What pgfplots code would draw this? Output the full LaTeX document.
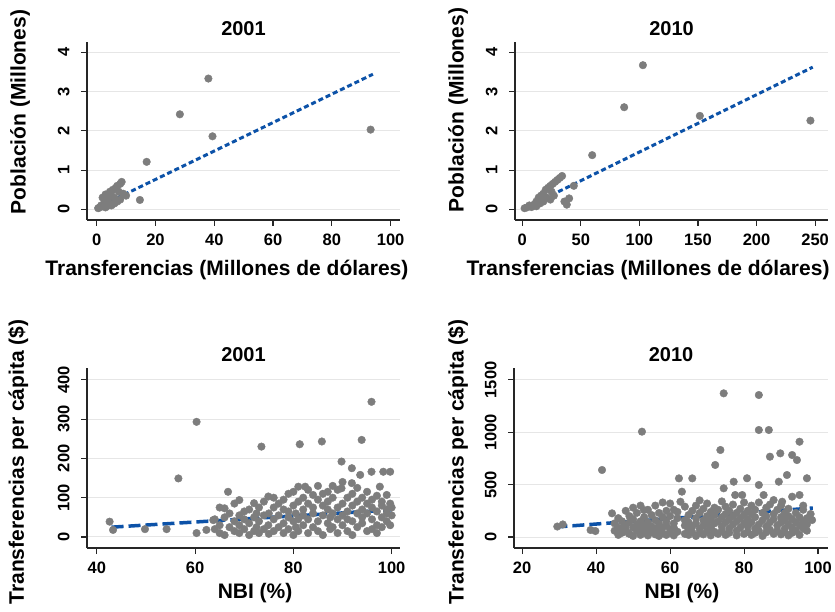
\documentclass[border=0pt]{standalone}
\usepackage{fontspec}
\setmainfont{Liberation Sans}
\usepackage{pgfplots}
\pgfplotsset{compat=1.18}

\definecolor{fitblue}{RGB}{12,82,168}
\definecolor{ptgray}{RGB}{125,125,125}
\definecolor{gridgray}{RGB}{230,230,230}

\pgfplotsset{
  panel/.style={
    scale only axis,
    anchor=south west,
    axis lines*=left,
    axis line style={line width=1.3pt, black!85},
    tick align=outside,
    major tick length=6pt,
    tick style={line width=1.1pt, black!85},
    ymajorgrids,
    grid style={line width=1pt, gridgray},
    /pgf/number format/assume math mode=true,
    /pgf/number format/set thousands separator={},
    tick label style={font=\fontsize{16.5}{18}\selectfont\bfseries},
    yticklabel style={rotate=90, anchor=south},
    yticklabel shift=8pt,
    xticklabel shift=4pt,
    label style={font=\fontsize{21}{23}\selectfont\bfseries},
    title style={font=\fontsize{20}{22}\selectfont\bfseries, at={(0.5,1)}, anchor=south, yshift=-3pt},
    clip=false,
  },
  pts/.style={only marks, mark=*, mark size=3.8pt, ptgray, mark options={draw=ptgray, fill=ptgray}},
  fitsmall/.style={no marks, fitblue, line width=3pt, dash pattern=on 5pt off 3pt},
  fitlong/.style={no marks, fitblue, line width=3.5pt, dash pattern=on 12pt off 5pt},
}

\begin{document}
\begin{tikzpicture}
\path[use as bounding box] (0,0) rectangle (835pt,611pt);

% Poblacion vs transferencias, 2001
\begin{axis}[panel, at={(87pt,391pt)}, width=313pt, height=178pt,
  xmin=-3.3, xmax=103.2, ymin=-0.27, ymax=4.26,
  xtick={0,20,...,100}, ytick={0,1,2,3,4},
  title={2001},
  xlabel={Transferencias (Millones de dólares)},
  ylabel={Población (Millones)},
  xlabel style={at={(axis description cs:0.447,-0.281)}, anchor=center},
  ylabel style={at={(axis description cs:-0.214,0.607)}, anchor=center},
]
\addplot[pts] coordinates {
(0.5,0.03)(1,0.05)(1.5,0.1)(2,0.08)(2.5,0.15)(3,0.38)(2,0.3)(3.5,0.25)(4,0.2)
(4.5,0.45)(5,0.35)(5.5,0.5)(6,0.3)(6.5,0.55)(7,0.6)(7.5,0.45)(8,0.65)(8.5,0.7)
(6,0.15)(7,0.2)(8,0.25)(9,0.4)(10,0.35)(4,0.1)(3,0.05)(5,0.1)
(14.7,0.24)(17,1.21)(28.3,2.42)(38,3.33)(39.4,1.86)(93.2,2.03)
};
\addplot[fitsmall] coordinates {(-0.5,0.02)(94,3.44)};
\end{axis}

% Poblacion vs transferencias, 2010
\begin{axis}[panel, at={(515pt,391pt)}, width=313pt, height=178pt,
  xmin=-6.2, xmax=261, ymin=-0.27, ymax=4.26,
  xtick={0,50,...,250}, ytick={0,1,2,3,4},
  title={2010},
  xlabel={Transferencias (Millones de dólares)},
  ylabel={Población (Millones)},
  xlabel style={at={(axis description cs:0.425,-0.281)}, anchor=center},
  ylabel style={at={(axis description cs:-0.182,0.618)}, anchor=center},
]
\addplot[pts] coordinates {
(2,0.03)(4,0.05)(6,0.1)(8,0.06)(10,0.12)(12,0.2)(14,0.3)(15,0.15)(16,0.35)
(18,0.4)(18,0.2)(20,0.5)(21,0.3)(22,0.55)(24,0.6)(25,0.45)(26,0.65)(28,0.7)
(30,0.75)(32,0.8)(34,0.85)(27,0.35)(24,0.25)(12,0.08)(36,0.2)(40,0.28)(38,0.12)
(44,0.6)(59.7,1.38)(87,2.6)(103,3.67)(151.6,2.38)(246,2.26)
};
\addplot[fitsmall] coordinates {(0,0.0)(248,3.62)};
\end{axis}

% Transferencias per capita vs NBI, 2001
\begin{axis}[panel, at={(87pt,63pt)}, width=313pt, height=180pt,
  xmin=38, xmax=101.7, ymin=-28, ymax=430,
  xtick={40,60,80,100}, ytick={0,100,...,400},
  title={2001},
  xlabel={NBI (\%)},
  ylabel={Transferencias per cápita (\$)},
  xlabel style={at={(axis description cs:0.537,-0.25)}, anchor=center},
  ylabel style={at={(axis description cs:-0.22,0.478)}, anchor=center},
]
\addplot[pts] coordinates {
(42.6,39)(43.3,18)(49.8,20)(54.2,20)(56.6,149)(60.3,293)(60.3,10)(62.3,18)(63.7,43)
(64,45)(64,20)(65,75)(65,10)(65,30)(66,73)(66,50)(66,5)(66.7,115)(67,25)(67,60)
(68,40)(68,15)(68,85)(69,94)(69,55)(69,10)(69,30)(70,65)(70,20)(70,45)
(71,35)(71,70)(71,5)(72,86)(72,50)(72,15)(72.5,25)(72.5,60)(73,40)(73,10)(73,75)
(73.5,230)(74,55)(74,20)(74,90)(74.9,103)(74.9,30)(75,60)(75,8)
(76,45)(76,75)(76,15)(76,100)(77,25)(77,55)(77,85)(78,70)(78,35)(78,10)(78,95)
(79,50)(79,110)(79,20)(79,65)(80,80)(80,40)(80,5)(80,115)(80.5,60)(80.5,25)
(81,128)(81,90)(81,45)(81,15)(81.3,236)(82,70)(82,30)(82,100)(82,55)(82.4,128)
(83,85)(83,10)(83,45)(83,120)(84,60)(84,25)(84,107)(84,75)(85,95)(85,40)(85,15)(85,130)
(85.8,243)(86,55)(86,80)(86,5)(86,110)(87,115)(87,70)(87,35)(87,90)(87.5,20)(87.5,50)
(88,100)(88,60)(88,130)(88,25)(89,75)(89,45)(89,10)(89,120)(89.8,192)(89.8,124)
(90,85)(90,55)(90,30)(90,140)(91,65)(91,100)(91,15)(91,45)(91.9,175)(91.9,137)
(92,80)(92,40)(92,110)(92,5)(93,90)(93,60)(93,25)(93,125)(93.6,158)(93.9,247)
(94,70)(94,35)(94,100)(94,50)(95,85)(95,15)(95,115)(95,60)(95.9,344)(95.9,166)
(96,45)(96,95)(96,20)(96,75)(97,65)(97,30)(97,105)(97,10)(97.6,128)
(98,80)(98,50)(98,90)(98,25)(98.3,166)(99,70)(99,107)(99,40)(99,60)
(99.7,166)(99.7,85)(99.7,30)(100,55)(100,75)
};
\addplot[fitlong] coordinates {(43,25)(100,69)};
\end{axis}

% Transferencias per capita vs NBI, 2010
\begin{axis}[panel, at={(514pt,63pt)}, width=314pt, height=180pt,
  xmin=17.8, xmax=102.7, ymin=-105, ymax=1614,
  xtick={20,40,...,100}, ytick={0,500,1000,1500},
  title={2010},
  xlabel={NBI (\%)},
  ylabel={Transferencias per cápita (\$)},
  xlabel style={at={(axis description cs:0.535,-0.25)}, anchor=center},
  ylabel style={at={(axis description cs:-0.178,0.478)}, anchor=center},
]
\addplot[pts] coordinates {
(29.5,100)(31,120)(38.5,67)(39.8,57)(41.6,640)(44.3,226)(47,83)(48.8,35)
(45,130)(45,60)(46,180)(46,20)(46,90)(47,150)(47,40)(48,110)(48,250)(48,70)
(49,30)(49,200)(49,140)(50,90)(50,10)(50,170)(50,280)(51,60)(51,230)(51,120)
(52,20)(52,150)(52,300)(52,80)(52.4,1006)(52.9,258)(53,40)(53,190)(53,110)
(54,260)(54,70)(54,15)(54,140)(55,100)(55,210)(55,45)(56,300)(56,160)(56,25)(56,80)
(57,130)(57,230)(57,60)(57,10)(58,190)(58,90)(58,330)(58,35)(59,250)(59,150)(59,20)(59,110)
(60,70)(60,200)(60,320)(60,40)(61,130)(61,260)(61,15)(61,90)(62,180)(62,50)(62,240)
(62.4,560)(62.8,337)(63.2,433)(64,110)(64,290)(64,30)(64,160)(65,210)(65,70)(65,20)(65,140)
(66,560)(66,250)(66,100)(66,45)(67,180)(67,10)(67,130)(67,300)(68,80)(68,230)(68,40)(68,350)
(69,160)(69,270)(69,25)(69,110)(70,200)(70,60)(70,320)(70,130)(71,90)(71,240)(71,15)(71,170)
(72,280)(72,130)(72,50)(72,210)(72.2,688)(73,150)(73,30)(73,260)(73.6,831)
(74,100)(74,340)(74,190)(74,60)(74.5,1372)(74.5,465)(75,220)(75,20)(75,140)(75,290)
(76,80)(76,250)(76,170)(76,40)(77,120)(77,310)(77,200)(77.2,528)(77.6,401)
(78,60)(78,230)(78,150)(78,15)(79,180)(79,270)(79,90)(79.5,401)
(80,30)(80,210)(80,130)(80,330)(80.8,561)(81,100)(81,250)(81,170)(81,50)
(82,300)(82,140)(82,20)(82,220)(83,80)(83,190)(83,260)(83,40)
(84,1356)(84,1022)(84,497)(84,120)(84,330)(84,60)(85,230)(85,160)(85,10)(85.3,401)
(86,280)(86,100)(86,200)(86,45)(86.7,1022)(87,767)(87,140)(87,310)(87,70)
(88,353)(88,220)(88,30)(88,170)(89,110)(89,260)(89,60)(89.4,528)(89.8,799)
(90,190)(90,300)(90,25)(90,140)(90.3,337)(91,80)(91,230)(91,160)(91,50)(91.6,592)
(92,270)(92,120)(92,15)(92,200)(93,783)(93,385)(93,90)(93,170)(93,40)
(94,230)(94,140)(94,60)(94.3,735)(95,910)(95,401)(95,110)(95,190)(95,20)
(96,260)(96,80)(96,150)(96,300)(97,561)(97,179)(97,60)(97,120)(98,220)(98.4,162)
};
\addplot[fitlong] coordinates {(29,95)(98.6,277)};
\end{axis}
\end{tikzpicture}
\end{document}
